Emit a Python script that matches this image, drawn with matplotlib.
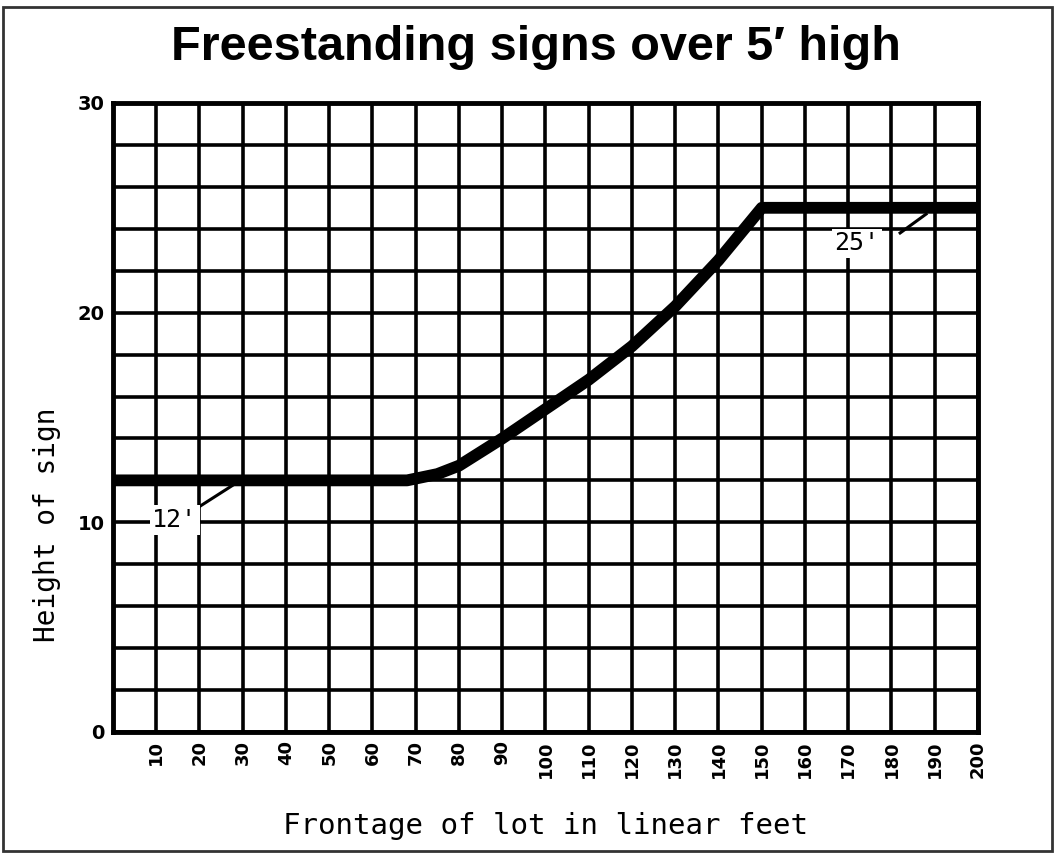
import matplotlib
matplotlib.use("Agg")
from matplotlib import pyplot as plt
from matplotlib.patches import Rectangle

# values
frontage = [0, 68, 75, 80, 90, 100, 110, 120, 130, 140, 150, 200]
height = [12, 12, 12.3, 12.7, 14.0, 15.4, 16.8, 18.4, 20.3, 22.5, 25, 25]
x_ticks = list(range(10, 201, 10))
y_ticks = [0, 10, 20, 30]
y_grid = list(range(0, 31, 2))


def draw_chart():
    fig = plt.figure(figsize=(10.55, 8.56), dpi=100)
    ax = fig.add_axes([0.1071, 0.1449, 0.8199, 0.7348])

    for gx in x_ticks:
        ax.axvline(gx, color="black", lw=2.6, zorder=1)
    for gy in y_grid:
        ax.axhline(gy, color="black", lw=2.6, zorder=1)

    ax.plot(frontage, height, color="black", lw=8.5, solid_capstyle="butt",
            solid_joinstyle="round", zorder=3)

    # callouts with leader lines
    ax.plot([19.6, 28.7], [10.7, 11.9], color="black", lw=2.2, zorder=4)
    ax.text(14.3, 10.1, "12'", fontsize=18, family="DejaVu Sans Mono",
            ha="center", va="center", zorder=5,
            bbox=dict(facecolor="white", edgecolor="none", pad=2))
    ax.plot([182, 188], [23.8, 24.7], color="black", lw=2.2, zorder=4)
    ax.text(172, 23.3, "25'", fontsize=18, family="DejaVu Sans Mono",
            ha="center", va="center", zorder=5,
            bbox=dict(facecolor="white", edgecolor="none", pad=2))

    ax.set_xlim(0, 200)
    ax.set_ylim(0, 30)
    ax.set_xticks(x_ticks)
    ax.set_xticklabels([str(v) for v in x_ticks], rotation=90,
                       fontsize=13, fontweight="bold")
    ax.set_yticks(y_ticks)
    ax.set_yticklabels([str(v) for v in y_ticks], fontsize=14, fontweight="bold")
    ax.tick_params(length=0, pad=6)
    for s in ax.spines.values():
        s.set_linewidth(3.5)

    fig.text(0.508, 0.944, "Freestanding signs over 5\u2032 high", ha="center",
             va="center", fontsize=35, fontweight="bold", family="Liberation Sans")
    fig.text(0.517, 0.035, "Frontage of lot in linear feet", ha="center",
             va="center", fontsize=21, family="DejaVu Sans Mono")
    fig.text(0.045, 0.387, "Height of sign", ha="center", va="center",
             rotation=90, fontsize=20, family="DejaVu Sans Mono")

    fig.patches.append(Rectangle((0.003, 0.006), 0.994, 0.986, transform=fig.transFigure,
                                 fill=False, edgecolor="#333333", lw=2))
    fig.savefig("out.png", dpi=100)


if __name__ == '__main__':
    draw_chart()
